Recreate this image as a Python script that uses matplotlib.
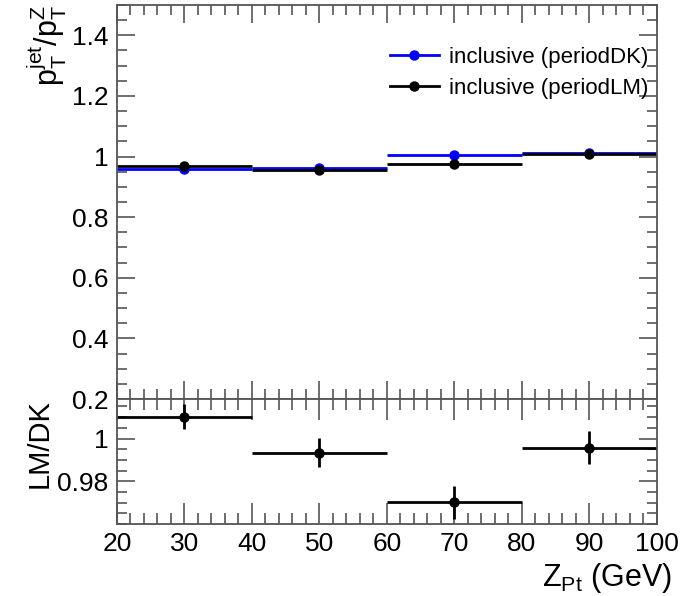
import numpy as np
import matplotlib
matplotlib.use("Agg")
import matplotlib.pyplot as plt
from matplotlib.ticker import MultipleLocator, FixedLocator
from matplotlib.lines import Line2D

plt.rcParams['font.family'] = ['Liberation Sans', 'DejaVu Sans']
plt.rcParams['mathtext.fontset'] = 'custom'
plt.rcParams['mathtext.rm'] = 'Liberation Sans'
plt.rcParams['mathtext.it'] = 'Liberation Sans'
plt.rcParams['mathtext.default'] = 'regular'

# bin centres / half widths (Z pT, GeV)
zpt = [30, 50, 70, 90]
half_width = [10, 10, 10, 10]

# pT(jet)/pT(Z) per period
resp_DK = [0.960, 0.961, 1.0066, 1.012]
resp_LM = [0.970, 0.955, 0.9765, 1.0078]

# LM/DK ratio and its errors
ratio = [1.0102, 0.9934, 0.9701, 0.9958]
ratio_err = [0.0059, 0.0068, 0.0076, 0.0076]

labels = ['inclusive (periodDK)', 'inclusive (periodLM)']
colors = ['#0000ff', 'black']

FS = 19
frame_col = '#555555'

fig = plt.figure(figsize=(6.83, 5.96), dpi=100)
ax_top = fig.add_axes([0.1713, 0.3305, 0.7906, 0.6611])
ax_bot = fig.add_axes([0.1713, 0.1208, 0.7906, 0.2097], sharex=ax_top)

for vals, col in zip([resp_DK, resp_LM], colors):
    ax_top.errorbar(zpt, vals, xerr=half_width, fmt='o', color=col,
                    ms=6.5, elinewidth=2, capsize=0)

ax_bot.errorbar(zpt, ratio, xerr=half_width, yerr=ratio_err, fmt='o',
                color='black', ms=6.5, elinewidth=2, capsize=0)

ax_top.set_xlim(20, 100)
ax_top.set_ylim(0.2, 1.5)
ax_bot.set_ylim(0.96, 1.0185)

ax_top.yaxis.set_major_locator(FixedLocator([0.2, 0.4, 0.6, 0.8, 1.0, 1.2, 1.4]))
ax_top.yaxis.set_minor_locator(MultipleLocator(0.05))
ax_top.set_yticklabels(['0.2', '0.4', '0.6', '0.8', '1', '1.2', '1.4'])
ax_bot.yaxis.set_major_locator(FixedLocator([0.98, 1.0]))
ax_bot.yaxis.set_minor_locator(MultipleLocator(0.005))
ax_bot.set_yticklabels(['0.98', '1'])
ax_bot.xaxis.set_major_locator(MultipleLocator(10))
ax_bot.xaxis.set_minor_locator(MultipleLocator(2))

for ax in (ax_top, ax_bot):
    ax.tick_params(which='both', direction='in', top=True, right=True,
                   color=frame_col, labelsize=FS, width=1.2)
    ax.tick_params(which='major', length=13, pad=6)
    ax.tick_params(which='minor', length=7)
    for s in ax.spines.values():
        s.set_color(frame_col)
        s.set_linewidth(1.3)
ax_bot.tick_params(axis='x', which='major', length=15)
ax_bot.tick_params(axis='x', which='minor', length=8)
ax_top.tick_params(axis='x', labelbottom=False)

ax_top.set_ylabel(r'$p_T^{jet}/p_T^Z$', fontsize=22, loc='top', labelpad=2)
ax_bot.set_ylabel('LM/DK', fontsize=21, loc='top', labelpad=3)
ax_bot.set_xlabel(r'Z$_{Pt}$ (GeV)', fontsize=22, labelpad=1,
                  ha='right')
ax_bot.xaxis.set_label_coords(1.027, -0.3)

handles = [Line2D([], [], color=c, marker='o', ms=6.5, lw=2) for c in colors]
ax_top.legend(handles, labels, loc='upper right', frameon=False, fontsize=16,
              bbox_to_anchor=(1.0, 0.917), handlelength=2.2, handletextpad=0.45,
              labelspacing=0.45, borderaxespad=0.0)

fig.savefig('out.png', dpi=100)
